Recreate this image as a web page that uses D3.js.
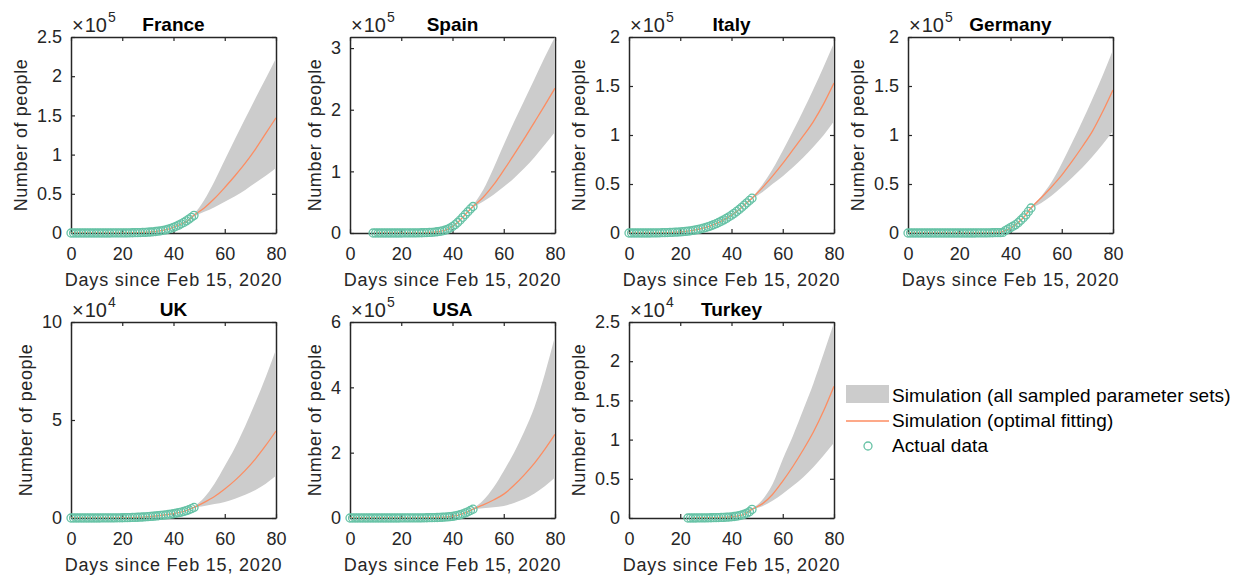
<!DOCTYPE html>
<html>
<head>
<meta charset="utf-8">
<script src="https://cdn.jsdelivr.net/npm/d3@7"></script>
<style>
  body { margin: 0; background: #fff; }
  text { font-family: "Liberation Sans", Arial, sans-serif; }
</style>
</head>
<body>
<svg id="chart" width="1243" height="576"></svg>
<script>
// ---- data ----
const countries = ["France", "Spain", "Italy", "Germany", "UK", "USA", "Turkey"];
const firstDay = [0, 9, 0, 0, 0, 0, 23];
const exponents = [5, 5, 5, 5, 4, 5, 4];
const yMaxes = [2.5e5, 3.18e5, 2e5, 2e5, 1e5, 6e5, 2.5e4];
const yTickSets = [
  [0, 0.5e5, 1e5, 1.5e5, 2e5, 2.5e5],
  [0, 1e5, 2e5, 3e5],
  [0, 0.5e5, 1e5, 1.5e5, 2e5],
  [0, 0.5e5, 1e5, 1.5e5, 2e5],
  [0, 5e4, 10e4],
  [0, 2e5, 4e5, 6e5],
  [0, 0.5e4, 1e4, 1.5e4, 2e4, 2.5e4]
];
const xTicks = [0, 20, 40, 60, 80];

// actual data, one value per day from firstDay to day 48
const franceActual = [0,0,0,0,0,0,0,0,0,0, 0,0,5,10,20,30,40,60,80,100,
  120,150,190,240,300,370,450,550,680,830, 1000,1250,1550,1900,2300,2800,3400,4100,5000,6000,
  7200,8500,10000,11700,13500,15500,17700,20000,22500];
const spainActual = [0,0,0,0,0,0,0,5,10,20,30,
  40,60,80,110,150,200,260,340,430,550,
  700,900,1150,1500,2000,2600,3400,4500,6000,8000,
  10500,13500,17000,21000,25500,30000,34500,39000,43000];
const italyActual = [0,0,0,0,0,0,0,0,20,50,
  100,150,220,300,380,470,570,690,820,970,
  1150,1350,1600,1900,2250,2650,3100,3650,4250,4950,
  5700,6500,7400,8400,9500,10700,12000,13400,14900,16500,
  18200,20000,22000,24000,26200,28500,30800,33200,35500];
const germanyActual = [0,0,0,0,0,0,0,0,0,0, 0,0,0,0,0,0,0,0,0,0, 0,0,0,0,0,
  10,20,30,50,80,110,150,200,250,300,350,400,
  600,2500,4000,5500,7000,8500,10500,13000,15500,18500,22000,25500];
const ukActual = [0,0,0,0,0,0,0,0,0,0,
  5,10,15,20,30,40,50,70,90,110,130,160,190,230,270,
  320,380,450,520,600,690,790,900,1020,1150,1290,1440,
  1600,1780,1970,2180,2420,2700,3000,3350,3750,4200,4750,5400];
const usaActual = [15,15,15,15,15,15,15,15,15,15, 15,15,15,15,15,15,20,30,40,60,
  80,100,130,160,200,250,310,390,480,590, 720,880,1070,1300,1580,1920,2330,2830,3430,4170,
  5000,6400,8000,10000,12500,15500,19000,23000,27000];
const turkeyActual = [0,0,0,0,5,10,15,20,25,30,40,50,60,
  70,80,100,120,150,190,240,300,380,480,620,800,1100];

// optimal fitting curve, sampled on fitDays
const fitDays = [0, 10, 20, 25, 30, 34, 38, 42, 45, 48, 52, 56, 60, 64, 68, 72, 76, 80];
const franceFit  = [0, 0, 120, 370, 1000, 2300, 5000, 10000, 14500, 22500, 32000, 44000, 58000, 73000, 89000, 107000, 127000, 147000];
const spainFit   = [null, 0, 40, 200, 700, 2000, 6000, 17000, 30000, 43000, 58000, 78000, 102000, 127000, 153000, 180000, 207000, 235000];
const italyFit   = [0, 100, 1150, 2650, 5700, 9500, 14900, 22000, 28500, 35500, 46000, 58000, 71000, 85000, 99000, 114000, 132000, 153000];
const germanyFit = [0, 0, 0, 10, 110, 300, 2500, 8500, 15500, 25500, 36000, 47000, 59000, 73000, 88000, 104000, 124000, 146000];
const ukFit      = [0, 5, 130, 320, 690, 1150, 1780, 2700, 3750, 5400, 8000, 11000, 14800, 19200, 24300, 30200, 37000, 44400];
const usaFit     = [15, 15, 80, 250, 720, 1580, 3430, 8000, 15500, 27000, 40000, 55000, 73000, 100000, 132000, 168000, 210000, 256000];
const turkeyFit  = [null, null, null, 0, 30, 60, 100, 240, 480, 1100, 1800, 3000, 4700, 6600, 8700, 11000, 13700, 16800];

// range of all sampled parameter sets, sampled on bandDays
const bandDays = [44, 48, 52, 56, 60, 64, 68, 72, 76, 80];
const franceLow   = [13500, 21000, 27000, 33000, 40000, 47000, 55000, 64000, 73000, 83000];
const franceHigh  = [13500, 24000, 42000, 66000, 93000, 120000, 146000, 172000, 197000, 223000];
const spainLow    = [25500, 41000, 51000, 62000, 75000, 89000, 105000, 123000, 143000, 164000];
const spainHigh   = [25500, 45000, 70000, 105000, 143000, 180000, 215000, 250000, 285000, 318000];
const italyLow    = [26200, 34500, 41500, 50000, 58000, 67000, 77000, 88000, 100000, 114000];
const italyHigh   = [26200, 36500, 49000, 65000, 84000, 104000, 125000, 147000, 170000, 194000];
const germanyLow  = [13000, 24500, 30500, 38000, 47000, 56500, 66500, 78000, 90500, 104000];
const germanyHigh = [13000, 26500, 37500, 52000, 71000, 92000, 114000, 137000, 161000, 187000];
const ukLow       = [3000, 5100, 6100, 7100, 8200, 9800, 11800, 14300, 17500, 21500];
const ukHigh      = [3000, 5800, 10500, 17500, 26500, 36000, 47000, 59000, 72000, 86000];
const usaLow      = [12500, 26000, 29500, 33000, 37000, 46000, 58000, 75000, 97000, 124000];
const usaHigh     = [12500, 29000, 54000, 93000, 144000, 200000, 265000, 340000, 440000, 556000];
const turkeyLow   = [480, 1050, 1500, 2200, 3100, 4100, 5200, 6500, 8000, 9600];
const turkeyHigh  = [480, 1200, 2300, 4300, 7500, 10500, 13800, 17200, 21000, 24900];

const actuals = [franceActual, spainActual, italyActual, germanyActual, ukActual, usaActual, turkeyActual];
const fits = [franceFit, spainFit, italyFit, germanyFit, ukFit, usaFit, turkeyFit];
const lows = [franceLow, spainLow, italyLow, germanyLow, ukLow, usaLow, turkeyLow];
const highs = [franceHigh, spainHigh, italyHigh, germanyHigh, ukHigh, usaHigh, turkeyHigh];

// ---- layout ----
const colLefts = [71, 350, 629, 908];
const rowTops = [37, 322];
const W = 205, H = 196;
const ink = "#262626";
const bandColor = "#cccccc";
const fitColor = "#fc8d62";
const dataColor = "#66c2a5";

const svg = d3.select("#chart");
const fmt = d3.format("~g");

countries.forEach((name, i) => {
  const left = colLefts[i % 4];
  const top = rowTops[Math.floor(i / 4)];
  const x = d3.scaleLinear().domain([0, 80]).range([left, left + W]);
  const y = d3.scaleLinear().domain([0, yMaxes[i]]).range([top + H, top]);
  const g = svg.append("g");

  g.append("clipPath").attr("id", "clip" + i)
    .append("rect").attr("x", left).attr("y", top).attr("width", W).attr("height", H);

  // axes box with inward ticks
  const styleAxis = sel => {
    sel.select(".domain").attr("stroke", ink).attr("stroke-width", 1.5);
    sel.selectAll(".tick line").attr("stroke", ink).attr("stroke-width", 1.2);
    sel.selectAll("text").attr("fill", ink).style("font-size", "18px")
      .style("font-family", '"Liberation Sans", Arial, sans-serif');
  };
  g.append("g").attr("transform", `translate(0,${top + H})`)
    .call(d3.axisBottom(x).tickValues(xTicks).tickSizeInner(-4).tickSizeOuter(0).tickPadding(14))
    .call(styleAxis);
  g.append("g").attr("transform", `translate(0,${top})`)
    .call(d3.axisTop(x).tickValues(xTicks).tickSizeInner(-4).tickSizeOuter(0).tickFormat(""))
    .call(styleAxis);
  const yAxis = g.append("g").attr("transform", `translate(${left},0)`)
    .call(d3.axisLeft(y).tickValues(yTickSets[i]).tickSizeInner(-4).tickSizeOuter(0).tickPadding(9)
      .tickFormat(v => fmt(v / Math.pow(10, exponents[i]))))
    .call(styleAxis);
  g.append("g").attr("transform", `translate(${left + W},0)`)
    .call(d3.axisRight(y).tickValues(yTickSets[i]).tickSizeInner(-4).tickSizeOuter(0).tickFormat(""))
    .call(styleAxis);

  // band
  const band = bandDays.map((d, k) => ({ day: d, lo: lows[i][k], hi: highs[i][k] }));
  g.append("path").datum(band)
    .attr("clip-path", `url(#clip${i})`)
    .attr("fill", bandColor)
    .attr("d", d3.area().x(d => x(d.day)).y0(d => y(d.lo)).y1(d => y(d.hi)).curve(d3.curveMonotoneX));

  // optimal fit
  const fit = fitDays.map((d, k) => ({ day: d, v: fits[i][k] }));
  g.append("path").datum(fit)
    .attr("clip-path", `url(#clip${i})`)
    .attr("fill", "none").attr("stroke", fitColor).attr("stroke-width", 1.3)
    .attr("d", d3.line().defined(d => d.v != null).x(d => x(d.day)).y(d => y(d.v)).curve(d3.curveMonotoneX));

  // actual data
  g.append("g").selectAll("circle")
    .data(actuals[i].map((v, k) => ({ day: firstDay[i] + k, v })))
    .enter().append("circle")
    .attr("cx", d => x(d.day)).attr("cy", d => y(d.v)).attr("r", 4)
    .attr("fill", "none").attr("stroke", dataColor).attr("stroke-width", 1.3);

  // title
  g.append("text").attr("x", left + W / 2).attr("y", top - 6)
    .attr("text-anchor", "middle").attr("font-weight", "bold").attr("font-size", 19).attr("fill", "#000")
    .text(name);

  // exponent label
  const ex = g.append("text").attr("x", left + 1).attr("y", top - 5).attr("fill", ink).attr("font-size", 20);
  ex.append("tspan").text("\u00d7");
  ex.append("tspan").attr("dx", 1).text("10");
  ex.append("tspan").attr("dy", -10).attr("dx", 1).attr("font-size", 14).text(exponents[i]);

  // axis labels
  g.append("text").attr("x", left + W / 2).attr("y", top + H + 53)
    .attr("text-anchor", "middle").attr("fill", ink).attr("font-size", 18).attr("letter-spacing", 0.8)
    .text("Days since Feb 15, 2020");
  let maxW = 0;
  yAxis.selectAll(".tick text").each(function () { maxW = Math.max(maxW, this.getBBox().width); });
  const ly = top + H / 2, lx = left - 9 - maxW - 10;
  g.append("text").attr("transform", `translate(${lx},${ly}) rotate(-90)`)
    .attr("text-anchor", "middle").attr("fill", ink).attr("font-size", 18).attr("letter-spacing", 0.6)
    .text("Number of people");
});

// ---- legend ----
const legendItems = ["Simulation (all sampled parameter sets)", "Simulation (optimal fitting)", "Actual data"];
const leg = svg.append("g");
leg.append("rect").attr("x", 846).attr("y", 385).attr("width", 43).attr("height", 18).attr("fill", bandColor);
leg.append("line").attr("x1", 846).attr("x2", 889).attr("y1", 421).attr("y2", 421)
  .attr("stroke", fitColor).attr("stroke-width", 1.3);
leg.append("circle").attr("cx", 868).attr("cy", 446).attr("r", 4)
  .attr("fill", "none").attr("stroke", dataColor).attr("stroke-width", 1.3);
leg.selectAll("text.item").data(legendItems).enter().append("text")
  .attr("class", "item")
  .attr("x", 892).attr("y", (d, k) => 401.5 + k * 25)
  .attr("fill", "#000").attr("font-size", 19).attr("letter-spacing", 0.1)
  .text(d => d);
</script>
</body>
</html>
